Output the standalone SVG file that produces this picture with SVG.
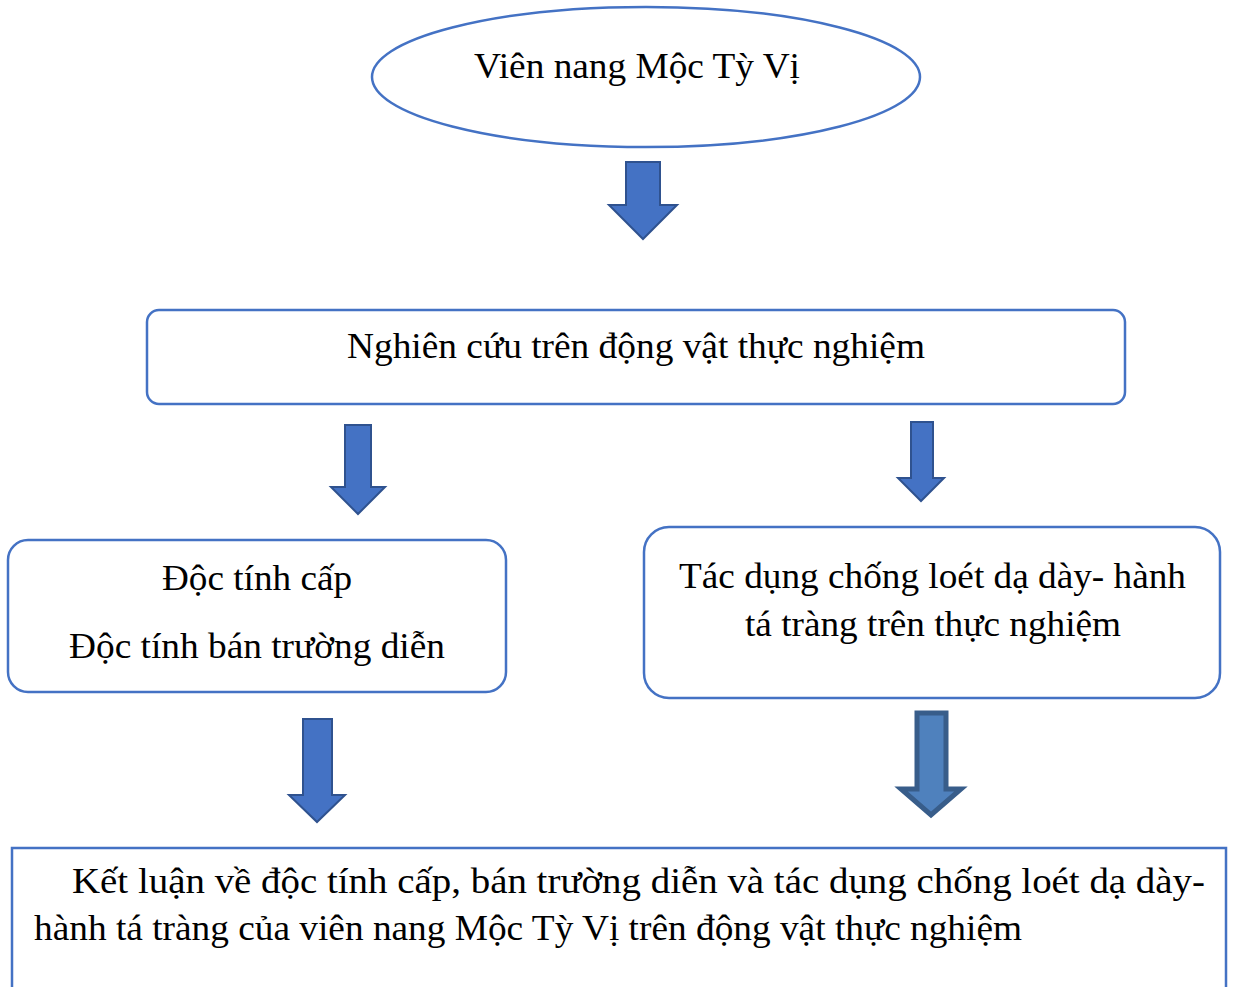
<svg xmlns="http://www.w3.org/2000/svg" width="1235" height="987" viewBox="0 0 1235 987">
<style>
.t{font-family:"Liberation Serif","Times New Roman",serif;font-size:35px;fill:#000}
.box{fill:#fff;stroke:#4472C4;stroke-width:2.5}
.arr{fill:#4472C4;stroke:#2F528F;stroke-width:2;stroke-linejoin:miter}
.arr2{fill:#4F81BD;stroke:#385D8A;stroke-width:5;stroke-linejoin:miter}
</style>
<rect width="1235" height="987" fill="#fff"/>
<g id="node-capsule">
<ellipse class="box" cx="646" cy="77" rx="274" ry="70"/>
<text class="t" x="474" y="78" textLength="326" lengthAdjust="spacingAndGlyphs">Viên nang Mộc Tỳ Vị</text>
</g>
<g id="node-research">
<rect class="box" x="147" y="310" width="978" height="94" rx="12"/>
<text class="t" x="347" y="358" textLength="578" lengthAdjust="spacingAndGlyphs">Nghiên cứu trên động vật thực nghiệm</text>
</g>
<g id="node-toxicity">
<rect class="box" x="8" y="540" width="498" height="152" rx="20"/>
<text class="t" x="162" y="590" textLength="190" lengthAdjust="spacingAndGlyphs">Độc tính cấp</text>
<text class="t" x="69" y="658" textLength="376" lengthAdjust="spacingAndGlyphs">Độc tính bán trường diễn</text>
</g>
<g id="node-ulcer">
<rect class="box" x="644" y="527" width="576" height="171" rx="25"/>
<text class="t" x="679" y="588" textLength="507" lengthAdjust="spacingAndGlyphs">Tác dụng chống loét dạ dày- hành</text>
<text class="t" x="745" y="636" textLength="376" lengthAdjust="spacingAndGlyphs">tá tràng trên thực nghiệm</text>
</g>
<g id="node-conclusion">
<rect class="box" x="12" y="848" width="1214" height="160"/>
<text class="t" x="72" y="893" textLength="1133" lengthAdjust="spacingAndGlyphs">Kết luận về độc tính cấp, bán trường diễn và tác dụng chống loét dạ dày-</text>
<text class="t" x="34" y="940" textLength="988" lengthAdjust="spacingAndGlyphs">hành tá tràng của viên nang Mộc Tỳ Vị trên động vật thực nghiệm</text>
</g>
<g id="connectors">
<polygon class="arr" points="626,162 660,162 660,205 677,205 643,239 609,205 626,205"/>
<polygon class="arr" points="345,425 371,425 371,487 385,487 358,514 331,487 345,487"/>
<polygon class="arr" points="911,422 933,422 933,478 944,478 921,501 898,478 911,478"/>
<polygon class="arr" points="303,719 332,719 332,795 345,795 317,822 289,795 303,795"/>
<polygon class="arr2" points="917,713 946,713 946,789 961,789 931,815 901,789 917,789"/>
</g>
</svg>
